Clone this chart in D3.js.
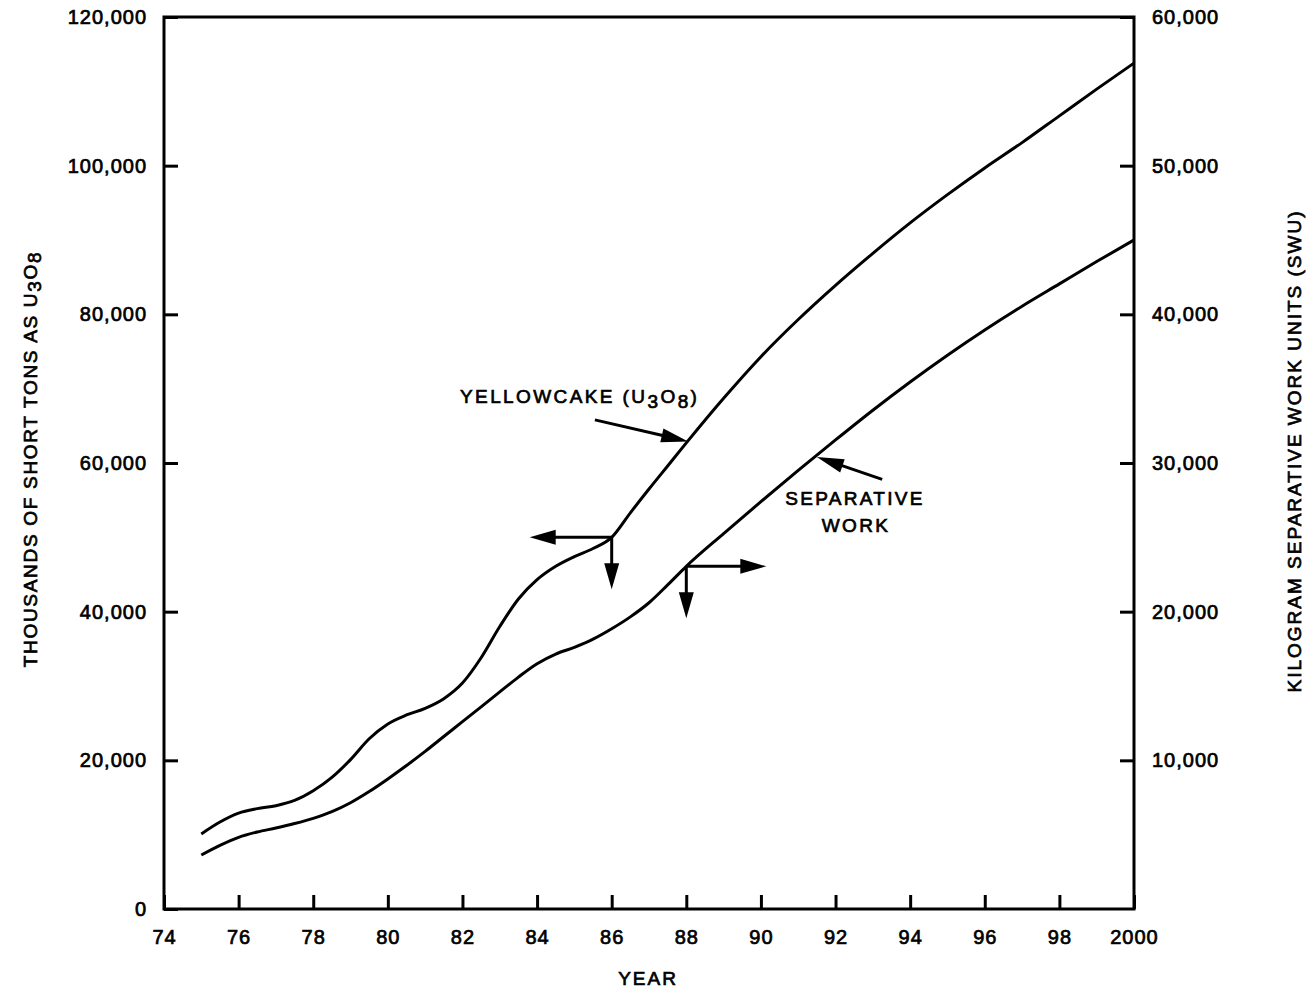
<!DOCTYPE html>
<html>
<head>
<meta charset="utf-8">
<script src="https://cdn.jsdelivr.net/npm/d3@7"></script>
<style>
  html, body { margin: 0; padding: 0; background: #fff; }
  svg { display: block; }
  text { font-family: "Liberation Sans", Arial, sans-serif; fill: #000; stroke: #000; stroke-width: 0.7px; }
</style>
</head>
<body>
<svg id="chart" width="1307" height="990"></svg>
<script>
// Projected cumulative requirements, 1975-2000
const years = [1975, 1975.5, 1976, 1976.5, 1977, 1977.5, 1978, 1978.5, 1979, 1979.5,
  1980, 1980.5, 1981, 1981.5, 1982, 1982.5, 1983, 1983.5, 1984, 1984.5,
  1985, 1985.5, 1986, 1986.5, 1987, 1987.5, 1988,
  1989, 1990, 1991, 1992, 1993, 1994, 1995, 1996, 1997, 1998, 1999, 2000];

// Yellowcake, thousands of short tons as U3O8 (left axis)
const yellowcake = [10100, 11700, 12900, 13500, 13900, 14600, 15900, 17700, 20100, 22900,
  24900, 26100, 27000, 28300, 30400, 33800, 38000, 41700, 44300, 46100,
  47400, 48500, 50000, 53300, 56500, 59600, 62700,
  68700, 74300, 79300, 83900, 88200, 92300, 96100, 99700, 103100, 106700, 110300, 113800];

// Separative work, kilogram SWU (right axis)
const separativeWork = [3630, 4280, 4820, 5180, 5450, 5750, 6100, 6550, 7150, 7900,
  8750, 9650, 10600, 11600, 12600, 13600, 14600, 15600, 16500, 17150,
  17600, 18150, 18850, 19650, 20600, 21800, 23050,
  25250, 27400, 29500, 31550, 33550, 35450, 37250, 38950, 40550, 42050, 43550, 45000];

const xTickValues = [1974, 1976, 1978, 1980, 1982, 1984, 1986, 1988, 1990, 1992, 1994, 1996, 1998, 2000];
const xTickLabels = ["74", "76", "78", "80", "82", "84", "86", "88", "90", "92", "94", "96", "98", "2000"];
const leftTicks = [0, 20000, 40000, 60000, 80000, 100000, 120000];
const rightTicks = [10000, 20000, 30000, 40000, 50000, 60000];

const svg = d3.select("#chart");
const plotL = 164, plotR = 1134, plotT = 17, plotB = 909;

const x = d3.scaleLinear().domain([1974, 2000]).range([plotL, plotR]);
const yL = d3.scaleLinear().domain([0, 120000]).range([plotB, plotT]);
const yR = d3.scaleLinear().domain([0, 60000]).range([plotB, plotT]);

const fontSize = 19;

// Axes with inward ticks
function styleAxis(g) {
  g.select(".domain").remove();
  g.selectAll(".tick line").attr("stroke", "#000").attr("stroke-width", 3);
  g.selectAll(".tick text")
    .style("font-family", '"Liberation Sans", Arial, sans-serif')
    .style("font-size", "20px")
    .style("letter-spacing", "1px")
    .attr("fill", "#000");
}

svg.append("g")
  .attr("transform", `translate(0,${plotB})`)
  .call(d3.axisBottom(x).tickValues(xTickValues)
    .tickFormat((d, i) => xTickLabels[i])
    .tickSizeInner(-14).tickSizeOuter(0).tickPadding(21))
  .call(styleAxis);

svg.append("g")
  .attr("transform", `translate(${plotL},0)`)
  .call(d3.axisLeft(yL).tickValues(leftTicks)
    .tickFormat(d3.format(","))
    .tickSizeInner(-14).tickSizeOuter(0).tickPadding(17))
  .call(styleAxis);

svg.append("g")
  .attr("transform", `translate(${plotR},0)`)
  .call(d3.axisRight(yR).tickValues(rightTicks)
    .tickFormat(d3.format(","))
    .tickSizeInner(-14).tickSizeOuter(0).tickPadding(18))
  .call(styleAxis);

// Plot frame
svg.append("rect")
  .attr("x", plotL).attr("y", plotT)
  .attr("width", plotR - plotL).attr("height", plotB - plotT)
  .attr("fill", "none").attr("stroke", "#000").attr("stroke-width", 3);

// Curves
const lineL = d3.line().x((d, i) => x(years[i])).y(d => yL(d)).curve(d3.curveMonotoneX);
const lineR = d3.line().x((d, i) => x(years[i])).y(d => yR(d)).curve(d3.curveMonotoneX);

svg.append("path").datum(yellowcake)
  .attr("d", lineL).attr("fill", "none").attr("stroke", "#000")
  .attr("stroke-width", 3).attr("stroke-linejoin", "round");
svg.append("path").datum(separativeWork)
  .attr("d", lineR).attr("fill", "none").attr("stroke", "#000")
  .attr("stroke-width", 3).attr("stroke-linejoin", "round");

// Arrow helper: shaft plus filled head
function arrow(x1, y1, x2, y2, headLen = 26, headHalf = 7.5) {
  const dx = x2 - x1, dy = y2 - y1, len = Math.hypot(dx, dy);
  const ux = dx / len, uy = dy / len;
  const bx = x2 - ux * headLen, by = y2 - uy * headLen;
  svg.append("line")
    .attr("x1", x1).attr("y1", y1).attr("x2", bx + ux * 2).attr("y2", by + uy * 2)
    .attr("stroke", "#000").attr("stroke-width", 3);
  svg.append("path")
    .attr("d", `M${x2},${y2} L${bx - uy * headHalf},${by + ux * headHalf} L${bx + uy * headHalf},${by - ux * headHalf} Z`)
    .attr("fill", "#000");
}

// Yellowcake reads on the left axis
const jY = { x: x(1986), y: yL(50000) };
arrow(jY.x, jY.y, jY.x - 82, jY.y);
arrow(jY.x, jY.y, jY.x, jY.y + 52);

// Separative work reads on the right axis
const jS = { x: x(1988), y: yR(23050) };
arrow(jS.x, jS.y, jS.x + 80, jS.y);
arrow(jS.x, jS.y, jS.x, jS.y + 52);

// Curve labels with pointers
arrow(x(1985.55), yL(65800), x(1988.05), yL(62900), 27, 7);
arrow(x(1993.25), yR(28900), x(1991.5), yR(30400), 27, 7);

const yc = svg.append("text")
  .attr("x", 460).attr("y", 403)
  .style("font-size", fontSize + "px").style("letter-spacing", "2.4px");
yc.append("tspan").text("YELLOWCAKE (U");
yc.append("tspan").attr("dy", 5).text("3");
yc.append("tspan").attr("dy", -5).text("O");
yc.append("tspan").attr("dy", 5).text("8");
yc.append("tspan").attr("dy", -5).text(")");

svg.append("text").attr("x", 855).attr("y", 505).attr("text-anchor", "middle")
  .style("font-size", fontSize + "px").style("letter-spacing", "2.3px").text("SEPARATIVE");
svg.append("text").attr("x", 856).attr("y", 532).attr("text-anchor", "middle")
  .style("font-size", fontSize + "px").style("letter-spacing", "2.3px").text("WORK");

// Axis titles
svg.append("text").attr("x", 648).attr("y", 985).attr("text-anchor", "middle")
  .style("font-size", fontSize + "px").style("letter-spacing", "2px").text("YEAR");

const lt = svg.append("text")
  .attr("transform", "translate(37,459) rotate(-90)")
  .attr("text-anchor", "middle")
  .style("font-size", fontSize + "px").style("letter-spacing", "1.7px");
lt.append("tspan").text("THOUSANDS OF SHORT TONS AS U");
lt.append("tspan").attr("dy", 4).text("3");
lt.append("tspan").attr("dy", -4).text("O");
lt.append("tspan").attr("dy", 4).text("8");

svg.append("text")
  .attr("transform", "translate(1301,451) rotate(-90)")
  .attr("text-anchor", "middle")
  .style("font-size", fontSize + "px").style("letter-spacing", "2px")
  .text("KILOGRAM SEPARATIVE WORK UNITS (SWU)");
</script>
</body>
</html>
